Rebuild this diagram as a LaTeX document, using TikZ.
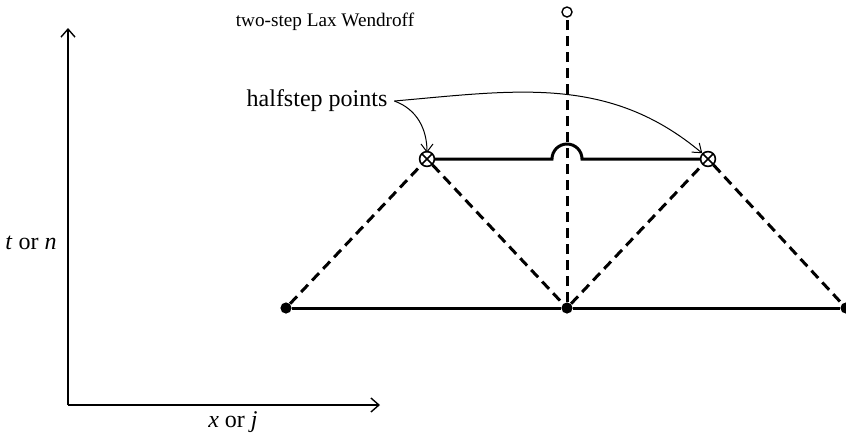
\documentclass[tikz,border=0pt]{standalone}
\usepackage{fontspec}
\setmainfont{Liberation Serif}
\usetikzlibrary{arrows.meta}
\tikzset{
  gridpt/.style={circle,fill=black,inner sep=0pt,minimum size=5.6pt},
  halfpt/.style={circle,draw=black,line width=.8pt,fill=white,inner sep=0pt,minimum size=7.4pt,
    path picture={\draw[line width=.8pt]
      ([shift={(45:3.7pt)}]path picture bounding box.center)--([shift={(225:3.7pt)}]path picture bounding box.center)
      ([shift={(135:3.7pt)}]path picture bounding box.center)--([shift={(-45:3.7pt)}]path picture bounding box.center);}},
  toppt/.style={circle,draw=black,line width=.7pt,inner sep=0pt,minimum size=5pt},
  thick line/.style={line width=1.5pt},
  dash line/.style={line width=1.5pt,dash pattern=on 5pt off 3pt},
  axis line/.style={line width=.7pt,-{Straight Barb[length=4pt,width=7pt]}},
  pointer/.style={line width=.5pt,-{Straight Barb[length=4pt,width=6pt]}}
}
\begin{document}
\begin{tikzpicture}[x=0.5pt,y=-0.5pt]
  \useasboundingbox (0,0) rectangle (846,441);
  % axes
  \coordinate (o) at (68,405);
  \coordinate (tend) at (68,28);
  \coordinate (xend) at (380,405);
  \draw[axis line] (o)--(tend);
  \draw[axis line] (o)--(xend);
  \node[font=\fontsize{12}{14}\selectfont] (tlab) at (31,243) {\textit{t} or \textit{n}};
  \node[font=\fontsize{12}{14}\selectfont] (xlab) at (233,422) {\textit{x} or \textit{j}};
  % grid points
  \node[gridpt] (j0) at (286,308) {};
  \node[gridpt] (j1) at (567,308) {};
  \node[gridpt] (j2) at (846,308) {};
  \node[halfpt] (hl) at (427,159) {};
  \node[halfpt] (hr) at (708,159) {};
  \node[toppt] (top) at (567,12) {};
  \coordinate (humpa) at (552,159);
  \draw[dash line] (j0)--(hl)--(j1)--(hr)--(j2);
  \draw[dash line] (j1)--(top);
  \draw[thick line] (j0)--(j1)--(j2);
  \draw[thick line] (hl)--(humpa) arc (180:360:15)--(hr);
  % labels
  \node[font=\fontsize{9.6}{11}\selectfont] (title) at (325,22) {two-step Lax Wendroff};
  \node[font=\fontsize{12}{14}\selectfont] (hs) at (317,101) {halfstep points};
  \draw[pointer] (hs.east) to[out=-20,in=90] ([yshift=-1pt]hl.north);
  \draw[pointer] (hs.east) to[out=5,in=140] (hr.north west);
\end{tikzpicture}
\end{document}
